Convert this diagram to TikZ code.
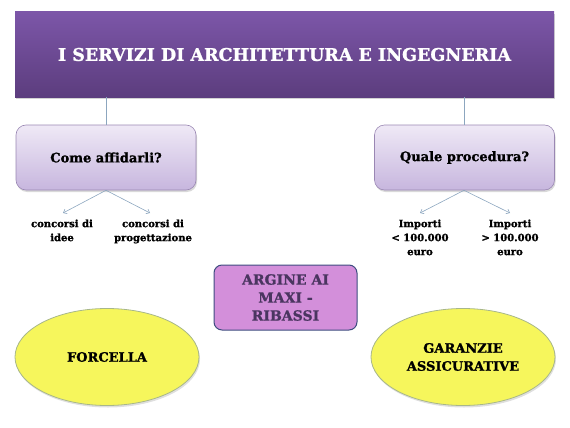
\documentclass[tikz,border=0pt]{standalone}
\usepackage{fontspec}
\setmainfont{DejaVu Serif}[BoldFont={DejaVu Serif Bold},BoldFeatures={FakeBold=1.2}]
\usetikzlibrary{shapes.geometric,arrows.meta,shadows}
\definecolor{barTop}{HTML}{7C56A8}
\definecolor{barBot}{HTML}{5C3D7E}
\definecolor{lavTop}{HTML}{EFE9F6}
\definecolor{lavBot}{HTML}{C7B6DE}
\definecolor{lavLine}{HTML}{9A87B3}
\definecolor{conn}{HTML}{8CA6BF}
\definecolor{orchid}{HTML}{D38FDA}
\definecolor{orchidLine}{HTML}{3E4C80}
\definecolor{orchidText}{HTML}{4A3560}
\definecolor{yel}{HTML}{F6F65C}
\definecolor{yelLine}{HTML}{A8B78A}
\tikzset{
  titlebar/.style={minimum width=539pt, minimum height=85pt, top color=barTop, bottom color=barBot, draw=none, drop shadow={shadow xshift=1pt,shadow yshift=-2pt,opacity=0.35}, text=white, font=\bfseries\fontsize{17.5}{20}\selectfont},
  qbox/.style={rounded corners=10pt, minimum width=180pt, minimum height=65pt, top color=lavTop, bottom color=lavBot, draw=lavLine, line width=0.6pt, drop shadow={shadow xshift=1pt,shadow yshift=-2pt,opacity=0.3}, font=\bfseries\fontsize{13}{15}\selectfont},
  lbl/.style={align=center, font=\bfseries\fontsize{10}{14}\selectfont},
  arr/.style={draw=conn, line width=0.6pt, -{Straight Barb[length=3pt,width=5pt]}},
  vline/.style={draw=conn, line width=0.6pt},
  midbox/.style={rounded corners=8pt, minimum width=143pt, minimum height=65pt, fill=orchid, draw=orchidLine, line width=1pt, text=orchidText, align=center, font=\bfseries\fontsize{14}{18}\selectfont},
  ell/.style={ellipse, minimum width=184pt, minimum height=97pt, fill=yel, draw=yelLine, line width=0.8pt, drop shadow={shadow xshift=1pt,shadow yshift=-2pt,opacity=0.25}, align=center, font=\bfseries\fontsize{13}{18}\selectfont}
}
\begin{document}
\begin{tikzpicture}[x=1pt,y=-1pt]
\useasboundingbox (0,0) rectangle (570,428);
\node[titlebar] (title) at (284.5,54.5) {I SERVIZI DI ARCHITETTURA E INGEGNERIA};
\node[qbox] (come) at (106,157.5) {Come affidarli?};
\node[qbox] (quale) at (464.5,157.5) {Quale procedura?};
\coordinate (t1) at (106,97);
\coordinate (t2) at (464,97);
\draw[vline] (t1) -- (come.north);
\draw[vline] (t2) -- (quale.north -| t2);
\coordinate (a1) at (63,213);
\coordinate (a2) at (150,213);
\coordinate (a3) at (420,213);
\coordinate (a4) at (510,213);
\draw[arr] (come.south) -- (a1);
\draw[arr] (come.south) -- (a2);
\draw[arr] (quale.south -| t2) -- (a3);
\draw[arr] (quale.south -| t2) -- (a4);
\node[lbl, anchor=north] (l1) at (62,216) {concorsi di\\idee};
\node[lbl, anchor=north] (l2) at (153,216) {concorsi di\\progettazione};
\node[lbl, anchor=north] (l3) at (420,216) {Importi\\< 100.000\\euro};
\node[lbl, anchor=north] (l4) at (510,216) {Importi\\> 100.000\\euro};
\node[midbox] (argine) at (285.5,297.5) {ARGINE AI\\MAXI -\\RIBASSI};
\node[ell] (forc) at (107,357) {FORCELLA};
\node[ell] (gar) at (463,357) {GARANZIE\\ASSICURATIVE};
\end{tikzpicture}
\end{document}
